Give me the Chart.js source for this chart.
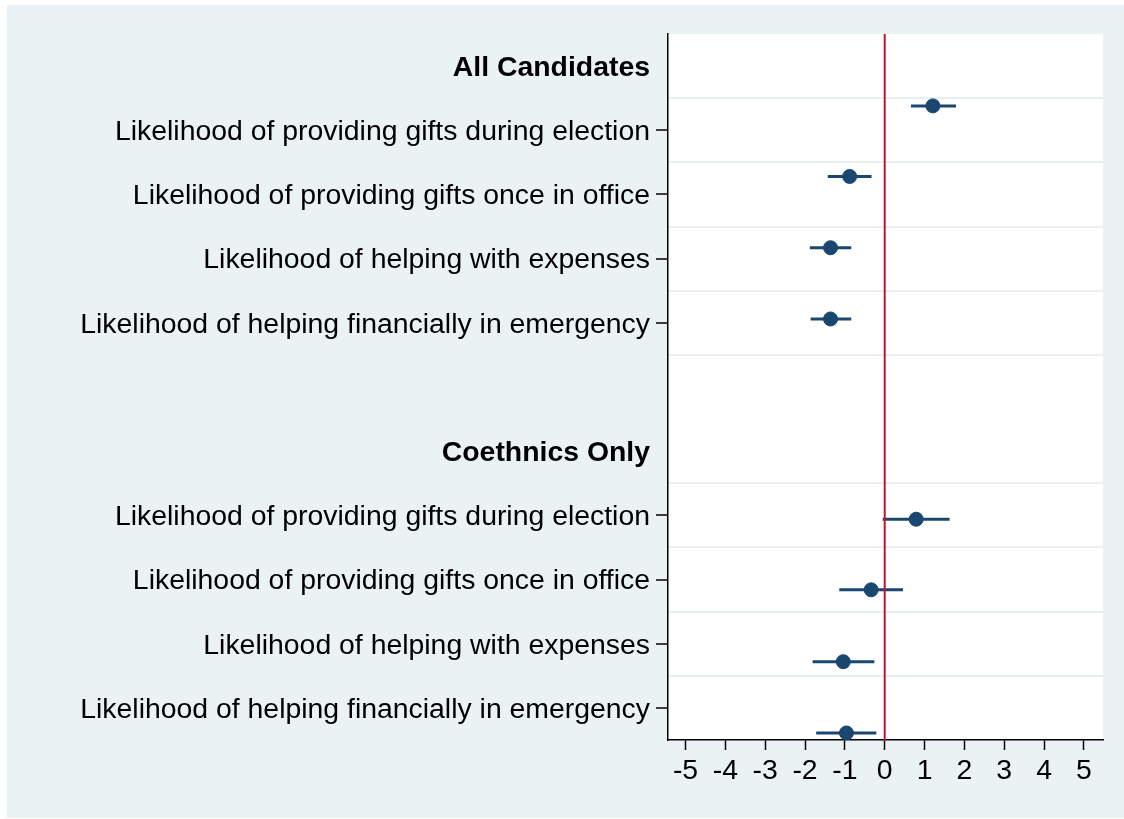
<!DOCTYPE html>
<html>
<head>
<meta charset="utf-8">
<script src="https://cdn.jsdelivr.net/npm/chart.js@4"></script>
<style>
  body { margin: 0; background: #ffffff; }
  #wrap { position: absolute; left: 7px; top: 5px; width: 1117px; height: 813px; background: #eaf2f3; }
</style>
</head>
<body>
<div id="wrap"><canvas id="coefChart" width="1117" height="813"></canvas></div>
<script>
// row labels on the y axis (position = row index)
const headerRows = [0, 6];
const headerLabels = ['All Candidates', 'Coethnics Only'];
const labelRows = [1, 2, 3, 4, 7, 8, 9, 10];
const rowLabels = [
  'Likelihood of providing gifts during election',
  'Likelihood of providing gifts once in office',
  'Likelihood of helping with expenses',
  'Likelihood of helping financially in emergency',
  'Likelihood of providing gifts during election',
  'Likelihood of providing gifts once in office',
  'Likelihood of helping with expenses',
  'Likelihood of helping financially in emergency'
];
const gridRows = [0.5, 1.5, 2.5, 3.5, 4.5, 6.5, 7.5, 8.5, 9.5];

// estimates and confidence intervals
const pointRow = [0.62, 1.72, 2.83, 3.94, 7.06, 8.16, 9.28, 10.39];
const estimate = [1.21, -0.88, -1.36, -1.36, 0.79, -0.34, -1.04, -0.96];
const ciLow    = [0.66, -1.43, -1.88, -1.86, -0.05, -1.14, -1.81, -1.72];
const ciHigh   = [1.79, -0.33, -0.84, -0.84, 1.63, 0.46, -0.26, -0.21];

const xTicks = [-5, -4, -3, -2, -1, 0, 1, 2, 3, 4, 5];
const refLine = 0;

const navy = '#1a476f';
const fontFamily = '"Liberation Sans", Arial, Helvetica, sans-serif';

const yTickValues = [...headerRows, ...labelRows, ...gridRows].sort((a, b) => a - b);

function rowText(v) {
  let i = headerRows.indexOf(v);
  if (i >= 0) return headerLabels[i];
  i = labelRows.indexOf(v);
  if (i >= 0) return rowLabels[i];
  return '';
}

const ciSets = estimate.map((e, i) => ({
  type: 'line',
  data: [{x: ciLow[i], y: pointRow[i]}, {x: ciHigh[i], y: pointRow[i]}],
  borderColor: navy,
  borderWidth: 3,
  pointRadius: 0,
  showLine: true,
  order: 2
}));

const pointSet = {
  type: 'scatter',
  data: estimate.map((e, i) => ({x: e, y: pointRow[i]})),
  backgroundColor: navy,
  borderColor: navy,
  pointRadius: 7,
  order: 1
};

// white plot region + red reference line
const plotBg = {
  id: 'plotBg',
  beforeDraw(chart) {
    const a = chart.chartArea, ctx = chart.ctx;
    ctx.save();
    ctx.fillStyle = '#ffffff';
    ctx.fillRect(a.left, a.top, a.right - a.left, a.bottom - a.top);
    ctx.restore();
  },
  afterDatasetsDraw(chart) {
    const a = chart.chartArea, ctx = chart.ctx;
    const px = chart.scales.x.getPixelForValue(refLine);
    ctx.save();
    ctx.strokeStyle = '#c8102e';
    ctx.lineWidth = 2;
    ctx.beginPath();
    ctx.moveTo(px, a.top);
    ctx.lineTo(px, a.bottom);
    ctx.stroke();
    ctx.restore();
  }
};

new Chart(document.getElementById('coefChart'), {
  type: 'scatter',
  data: { datasets: [...ciSets, pointSet] },
  options: {
    responsive: false,
    animation: false,
    devicePixelRatio: 1,
    layout: { padding: { top: 29, right: 21, left: 0, bottom: 0 } },
    plugins: { legend: { display: false }, tooltip: { enabled: false } },
    scales: {
      x: {
        type: 'linear',
        min: -5.44,
        max: 5.48,
        afterBuildTicks: (scale) => { scale.ticks = xTicks.map(v => ({value: v})); },
        afterFit: (scale) => { scale.height = 78; },
        border: { display: true, color: '#000000', width: 1.5 },
        grid: { drawOnChartArea: false, tickLength: 10, tickColor: '#000000', tickWidth: 1.5 },
        ticks: {
          color: '#000000',
          padding: 4,
          font: { family: fontFamily, size: 28.4 },
          callback: (v) => String(v)
        }
      },
      y: {
        type: 'linear',
        reverse: true,
        min: -0.5,
        max: 10.5,
        afterBuildTicks: (scale) => { scale.ticks = yTickValues.map(v => ({value: v})); },
        afterFit: (scale) => { scale.width = 661; },
        border: { display: true, color: '#000000', width: 1.5 },
        grid: {
          lineWidth: 2,
          tickLength: 12,
          tickWidth: 1.5,
          color: (ctx) => {
            const v = ctx.tick ? ctx.tick.value : null;
            return gridRows.includes(v) ? '#e8eff1' : 'rgba(0,0,0,0)';
          },
          tickColor: (ctx) => {
            const v = ctx.tick ? ctx.tick.value : null;
            return labelRows.includes(v) ? '#000000' : 'rgba(0,0,0,0)';
          }
        },
        ticks: {
          autoSkip: false,
          color: '#000000',
          padding: 6,
          labelOffset: 2,
          font: (ctx) => ({
            family: fontFamily,
            size: 28.4,
            weight: ctx.tick && headerRows.includes(ctx.tick.value) ? 'bold' : 'normal'
          }),
          callback: (v) => rowText(v)
        }
      }
    }
  },
  plugins: [plotBg]
});
</script>
</body>
</html>
